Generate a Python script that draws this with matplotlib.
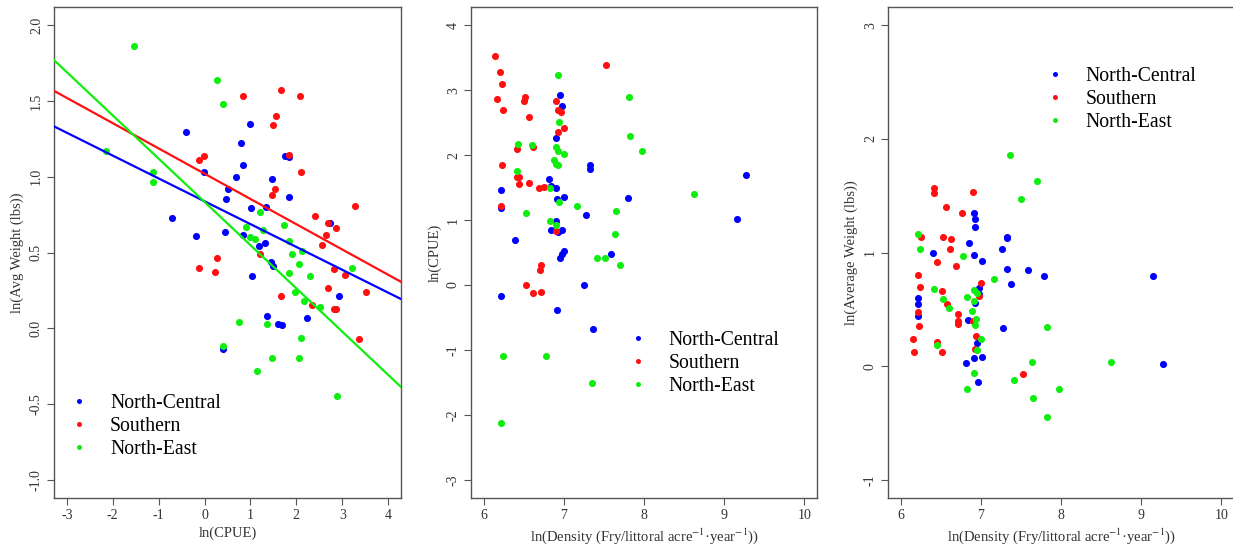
import matplotlib
matplotlib.use("Agg")
import matplotlib.pyplot as plt
from matplotlib.lines import Line2D

plt.rcParams['font.family'] = ['Liberation Serif', 'DejaVu Serif']
plt.rcParams['mathtext.fontset'] = 'stix'
plt.rcParams['axes.unicode_minus'] = False

regions = ['North-Central', 'Southern', 'North-East']
colors = {'North-Central': '#0000ff', 'Southern': '#ff1010', 'North-East': '#10ee10'}

# panel 1: ln(CPUE) vs ln(Avg Weight)
cpue_nc = [-0.41, -0.72, -0.19, -0.01, 0.51, 0.47, 0.69, 0.80, 0.83, 0.98, 1.02, 0.44, 0.84,
           1.18, 1.32, 1.34, 1.48, 1.76, 1.84, 1.84, 2.73, 1.45, 1.50, 1.04, 2.92, 1.35, 1.60,
           1.69, 2.24, 0.41]
wt_nc = [1.296, 0.726, 0.607, 1.031, 0.921, 0.850, 0.998, 1.221, 1.079, 1.349, 0.795, 0.634, 0.614,
         0.545, 0.563, 0.797, 0.987, 1.134, 1.128, 0.863, 0.693, 0.439, 0.411, 0.342, 0.210, 0.079,
         0.031, 0.020, 0.068, -0.139]
cpue_s = [-0.13, -0.01, 0.83, 1.67, 2.07, 1.55, 1.50, 1.84, 2.11, 1.53, 1.48, 2.40, 2.69, 2.86,
          3.27, 2.65, 2.56, 1.20, 0.28, -0.12, 0.23, 2.81, 3.06, 2.69, 3.52, 1.67, 2.35, 2.81,
          2.86, 3.37]
wt_s = [1.113, 1.134, 1.532, 1.570, 1.532, 1.400, 1.344, 1.141, 1.031, 0.921, 0.879, 0.742, 0.693,
        0.662, 0.808, 0.616, 0.550, 0.488, 0.461, 0.399, 0.371, 0.393, 0.351, 0.263, 0.240, 0.212,
        0.152, 0.124, 0.124, -0.073]
cpue_ne = [-1.53, -2.14, -1.13, -1.13, 0.28, 0.40, 1.20, 0.91, 0.98, 1.09, 1.27, 1.74, 1.85, 1.91,
           2.13, 2.06, 1.85, 2.29, 3.22, 1.98, 2.16, 2.51, 0.76, 1.37, 0.41, 2.11, 1.48, 2.05,
           1.14, 2.88]
wt_ne = [1.863, 1.168, 1.031, 0.965, 1.640, 1.477, 0.764, 0.671, 0.605, 0.590, 0.649, 0.682, 0.578,
         0.488, 0.512, 0.422, 0.362, 0.346, 0.395, 0.240, 0.181, 0.141, 0.042, 0.031, -0.117,
         -0.062, -0.197, -0.197, -0.283, -0.448]

# fitted lines (intercept, slope)
fit_intercept = {'North-Central': 0.838, 'Southern': 1.020, 'North-East': 0.834}
fit_slope = {'North-Central': -0.1507, 'Southern': -0.1667, 'North-East': -0.2853}

# panel 2: ln(Density) vs ln(CPUE)
dens2_nc = [6.22, 6.21, 6.39, 6.81, 6.90, 6.84, 6.91, 7.00, 6.90, 6.95, 6.97, 7.32, 7.33, 7.28,
            7.80, 6.90, 6.84, 6.98, 6.92, 7.00, 6.98, 6.95, 7.59, 9.27, 9.16, 6.21, 7.25, 6.91, 7.36]
cpue2_nc = [1.46, 1.19, 0.70, 1.63, 1.50, 1.53, 1.33, 1.36, 2.26, 2.93, 2.76, 1.85, 1.78, 1.07,
            1.34, 0.99, 0.85, 0.85, 0.81, 0.53, 0.47, 0.41, 0.48, 1.70, 1.02, -0.17, 0.00, -0.39, -0.68]
dens2_s = [6.14, 6.20, 6.23, 6.17, 6.24, 6.51, 6.50, 6.57, 7.52, 6.90, 6.93, 6.96, 7.00, 6.92,
           6.41, 6.62, 6.23, 6.41, 6.44, 6.44, 6.56, 6.69, 6.75, 6.21, 6.90, 6.71, 6.70, 6.53,
           6.62, 6.72]
cpue2_s = [3.52, 3.28, 3.09, 2.87, 2.70, 2.89, 2.83, 2.58, 3.38, 2.83, 2.70, 2.66, 2.42, 2.35,
           2.09, 2.13, 1.85, 1.67, 1.67, 1.56, 1.57, 1.50, 1.51, 1.21, 0.83, 0.30, 0.23, 0.00,
           -0.12, -0.11]
dens2_ne = [6.93, 7.81, 6.94, 7.82, 7.97, 6.43, 6.60, 6.90, 6.93, 7.00, 6.88, 6.90, 6.93, 6.41,
            6.83, 6.94, 7.16, 6.53, 7.65, 8.62, 6.83, 6.90, 7.64, 7.41, 7.51, 7.70, 6.24, 6.78,
            7.35, 6.22]
cpue2_ne = [3.23, 2.90, 2.51, 2.30, 2.07, 2.17, 2.15, 2.12, 2.07, 2.01, 1.93, 1.87, 1.85, 1.76,
            1.50, 1.28, 1.21, 1.11, 1.14, 1.40, 0.99, 0.93, 0.79, 0.41, 0.41, 0.30, -1.10, -1.10,
            -1.51, -2.12]

# panel 3: ln(Density) vs ln(Average Weight)
dens3_nc = [6.91, 6.92, 6.92, 7.33, 7.32, 6.85, 7.26, 6.40, 6.91, 7.01, 7.33, 7.59, 7.79, 9.15,
            7.37, 6.97, 6.97, 6.22, 6.22, 6.22, 6.92, 6.84, 7.28, 6.95, 6.91, 7.01, 6.81, 9.27, 6.96]
wt3_nc = [1.351, 1.292, 1.220, 1.135, 1.125, 1.083, 1.027, 0.995, 0.980, 0.924, 0.856, 0.850,
          0.794, 0.794, 0.720, 0.692, 0.633, 0.604, 0.545, 0.440, 0.556, 0.410, 0.336, 0.207,
          0.069, 0.078, 0.030, 0.018, -0.140]
dens3_s = [6.41, 6.41, 6.90, 6.57, 6.76, 6.25, 6.53, 6.63, 6.62, 6.45, 6.69, 6.22, 6.24, 6.52,
           7.00, 6.97, 6.58, 6.22, 6.72, 6.72, 6.71, 6.23, 6.90, 6.94, 6.15, 6.45, 6.92, 6.17,
           6.51, 7.52]
wt3_s = [1.566, 1.527, 1.530, 1.400, 1.345, 1.133, 1.133, 1.115, 1.033, 0.918, 0.883, 0.803,
         0.695, 0.657, 0.736, 0.618, 0.547, 0.480, 0.462, 0.397, 0.375, 0.353, 0.398, 0.266,
         0.242, 0.210, 0.150, 0.122, 0.122, -0.070]
dens3_ne = [7.36, 7.70, 7.50, 6.22, 6.24, 6.78, 7.16, 6.42, 6.53, 6.60, 6.83, 6.91, 6.95, 6.91,
            6.89, 6.94, 6.93, 7.00, 6.45, 6.95, 7.83, 7.64, 8.62, 6.91, 7.41, 6.83, 7.97, 7.65, 7.82]
wt3_ne = [1.855, 1.630, 1.474, 1.160, 1.030, 0.967, 0.770, 0.677, 0.592, 0.513, 0.607, 0.669,
          0.648, 0.574, 0.483, 0.418, 0.360, 0.242, 0.186, 0.140, 0.346, 0.040, 0.034, -0.060,
          -0.120, -0.199, -0.199, -0.284, -0.445]

density_label = 'ln(Density (Fry/littoral acre$^{-1}$·year$^{-1}$))'

W, H = 1233, 544
fig = plt.figure(figsize=(W / 100, H / 100), dpi=100)

frame_col = '#555555'
text_col = '#333333'


def make_axes(left_px, width_px):
    ax = fig.add_axes([left_px / W, 1 - 498 / H, width_px / W, 491 / H])
    for sp in ax.spines.values():
        sp.set_color(frame_col)
        sp.set_linewidth(1.0)
    ax.tick_params(direction='out', length=5, width=0.8, color=frame_col,
                   labelcolor=text_col, labelsize=10, pad=3)
    return ax


def style_yticks(ax, ticks, fmt):
    ax.set_yticks(ticks)
    ax.set_yticklabels([fmt.format(t) for t in ticks], rotation=90, va='center')


def add_legend(ax, x, y):
    handles = [Line2D([], [], ls='none', marker='o', markersize=3.6, markeredgewidth=0,
                      color=colors[r]) for r in regions]
    ax.legend(handles, regions, loc='upper left', bbox_to_anchor=(x, y), frameon=False,
              fontsize=14.2, handlelength=1.0, handletextpad=1.05, labelspacing=0.21,
              borderaxespad=0, borderpad=0)


ms = 26

# panel 1
ax1 = make_axes(54, 347)
ax1.scatter(cpue_nc, wt_nc, s=ms, color=colors['North-Central'], linewidths=0, zorder=2)
ax1.scatter(cpue_s, wt_s, s=ms, color=colors['Southern'], linewidths=0, zorder=2)
ax1.scatter(cpue_ne, wt_ne, s=ms, color=colors['North-East'], linewidths=0, zorder=2)
for r in regions:
    ax1.axline((0, fit_intercept[r]), slope=fit_slope[r], color=colors[r], lw=1.6, zorder=3)
ax1.set_xlim(-3.28, 4.28)
ax1.set_ylim(-1.12, 2.12)
ax1.set_xticks(range(-3, 5))
style_yticks(ax1, [-1.0, -0.5, 0.0, 0.5, 1.0, 1.5, 2.0], '{:.1f}')
ax1.set_xlabel('ln(CPUE)', fontsize=10.5, color=text_col, labelpad=3)
ax1.set_ylabel('ln(Avg Weight (lbs))', fontsize=10.5, color=text_col, labelpad=4)
add_legend(ax1, 0.045, 0.212)

# panel 2
ax2 = make_axes(471, 346)
ax2.scatter(dens2_nc, cpue2_nc, s=ms, color=colors['North-Central'], linewidths=0)
ax2.scatter(dens2_s, cpue2_s, s=ms, color=colors['Southern'], linewidths=0)
ax2.scatter(dens2_ne, cpue2_ne, s=ms, color=colors['North-East'], linewidths=0)
ax2.set_xlim(5.84, 10.16)
ax2.set_ylim(-3.28, 4.28)
ax2.set_xticks(range(6, 11))
style_yticks(ax2, list(range(-3, 5)), '{:d}')
ax2.set_xlabel(density_label, fontsize=10.5, color=text_col, labelpad=3)
ax2.set_ylabel('ln(CPUE)', fontsize=10.5, color=text_col, labelpad=4)
add_legend(ax2, 0.455, 0.341)

# panel 3
ax3 = make_axes(888, 346)
ax3.scatter(dens3_nc, wt3_nc, s=ms, color=colors['North-Central'], linewidths=0)
ax3.scatter(dens3_s, wt3_s, s=ms, color=colors['Southern'], linewidths=0)
ax3.scatter(dens3_ne, wt3_ne, s=ms, color=colors['North-East'], linewidths=0)
ax3.set_xlim(5.84, 10.16)
ax3.set_ylim(-1.16, 3.16)
ax3.set_xticks(range(6, 11))
style_yticks(ax3, list(range(-1, 4)), '{:d}')
ax3.set_xlabel(density_label, fontsize=10.5, color=text_col, labelpad=3)
ax3.set_ylabel('ln(Average Weight (lbs))', fontsize=10.5, color=text_col, labelpad=4)
add_legend(ax3, 0.453, 0.878)

fig.savefig('out.png', dpi=100)
